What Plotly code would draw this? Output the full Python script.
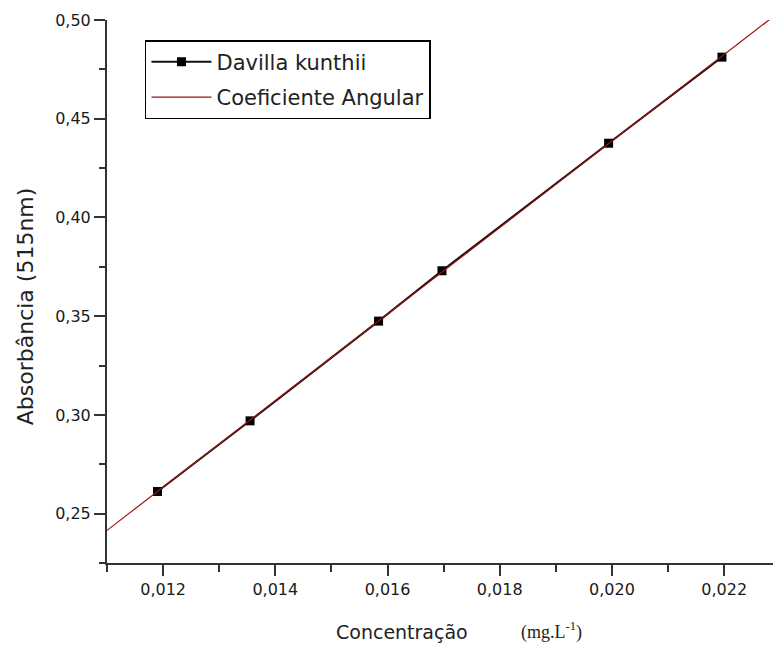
import numpy as np
import plotly.graph_objects as go

# Calibration data: concentration (mg/L) vs absorbance at 515 nm
concentracao = [0.0119, 0.01355, 0.01584, 0.01697, 0.01994, 0.02196]
absorbancia = [0.2612, 0.2970, 0.3475, 0.3730, 0.4376, 0.4812]

x_ticks = [0.012, 0.014, 0.016, 0.018, 0.020, 0.022]
x_tick_labels = ["0,012", "0,014", "0,016", "0,018", "0,020", "0,022"]
y_ticks = [0.25, 0.30, 0.35, 0.40, 0.45, 0.50]
y_tick_labels = ["0,25", "0,30", "0,35", "0,40", "0,45", "0,50"]

X_RANGE = [0.011, 0.02287]
Y_RANGE = [0.225, 0.50]

# Linear fit (slope = "coeficiente angular")
slope, intercept = np.polyfit(concentracao, absorbancia, 1)
fit_x = np.array(X_RANGE)
fit_y = slope * fit_x + intercept

FONT = "DejaVu Sans"
AXIS_COLOR = "#333333"

fig = go.Figure()

fig.add_trace(go.Scatter(
    x=concentracao, y=absorbancia,
    mode="lines+markers",
    name="Davilla kunthii",
    legendgroup="dados",
    line=dict(color="#111111", width=2),
    marker=dict(symbol="square", size=9, color="#000000"),
))

fig.add_trace(go.Scatter(
    x=fit_x, y=fit_y,
    mode="lines",
    name="Coeficiente Angular",
    legendgroup="ajuste",
    line=dict(color="#9a1414", width=1.2),
))

axis_common = dict(
    showline=True, linecolor=AXIS_COLOR, linewidth=2,
    ticks="outside", tickcolor=AXIS_COLOR, tickwidth=1.5, ticklen=11,
    showgrid=False, zeroline=False, mirror=False,
    tickfont=dict(family=FONT, size=16, color="#1a1a1a"),
)

fig.update_xaxes(
    range=X_RANGE,
    tickvals=x_ticks, ticktext=x_tick_labels,
    minor=dict(dtick=0.001, tick0=0.011, ticks="outside", ticklen=7,
               tickcolor=AXIS_COLOR, tickwidth=1.5),
    **axis_common,
)
fig.update_yaxes(
    range=Y_RANGE,
    tickvals=y_ticks, ticktext=y_tick_labels,
    minor=dict(dtick=0.025, tick0=0.225, ticks="outside", ticklen=6,
               tickcolor=AXIS_COLOR, tickwidth=1.5),
    **axis_common,
)

fig.add_annotation(
    text="Absorbância (515nm)", textangle=-90,
    xref="paper", yref="paper", x=-0.123, y=0.473,
    xanchor="center", yanchor="middle", showarrow=False,
    font=dict(family=FONT, size=22, color="#222222"),
)
fig.add_annotation(
    text="Concentração",
    xref="paper", yref="paper", x=0.443, y=-0.127,
    xanchor="center", yanchor="middle", showarrow=False,
    font=dict(family=FONT, size=19, color="#222222"),
)
fig.add_annotation(
    text="(mg.L<sup>-1</sup>)",
    xref="paper", yref="paper", x=0.668, y=-0.125,
    xanchor="center", yanchor="middle", showarrow=False,
    font=dict(family="Liberation Serif", size=18, color="#222222"),
)

fig.update_layout(
    width=773, height=648,
    margin=dict(l=107, r=0, t=20, b=85),
    paper_bgcolor="white", plot_bgcolor="white",
    showlegend=True,
    legend=dict(
        x=0.057, y=0.963, xanchor="left", yanchor="top",
        bordercolor="#000000", borderwidth=1.5,
        bgcolor="white",
        font=dict(family=FONT, size=21, color="#222222"),
        itemwidth=60,
        traceorder="grouped",
        tracegroupgap=5,
        entrywidth=300,
        entrywidthmode="pixels",
    ),
)

fig.write_html("out.html")
